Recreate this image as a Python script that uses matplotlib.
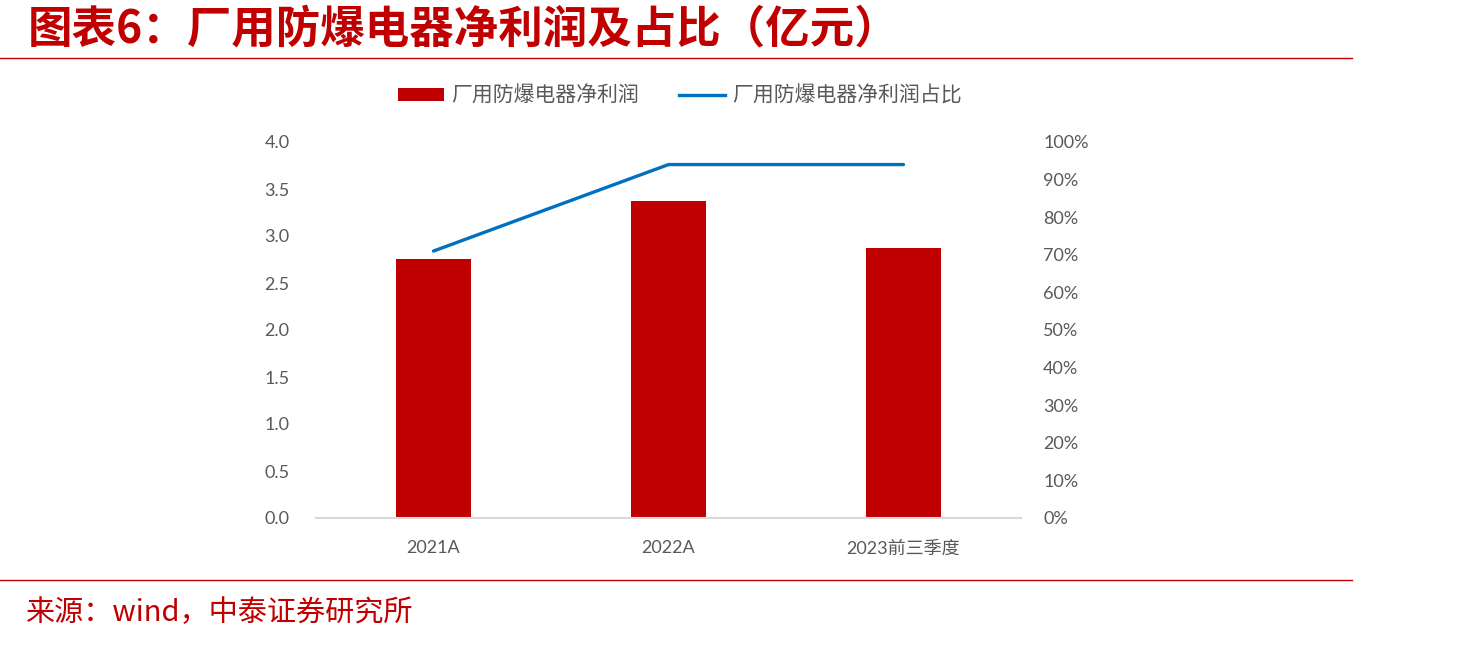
import matplotlib
matplotlib.use("Agg")
import matplotlib.pyplot as plt
from matplotlib.patches import Patch
from matplotlib.lines import Line2D
from matplotlib.ticker import FuncFormatter

plt.rcParams['font.family'] = ['Lato', 'Noto Sans CJK SC', 'DejaVu Sans']

categories = ["2021A", "2022A", "2023前三季度"]
net_profit = [2.76, 3.37, 2.87]
share = [0.71, 0.94, 0.94]
left_ticks = [0.0, 0.5, 1.0, 1.5, 2.0, 2.5, 3.0, 3.5, 4.0]
right_ticks = [0.0, 0.1, 0.2, 0.3, 0.4, 0.5, 0.6, 0.7, 0.8, 0.9, 1.0]

title = "图表6：厂用防爆电器净利润及占比（亿元）"
source = "来源：wind，中泰证券研究所"
label_bar = "厂用防爆电器净利润"
label_line = "厂用防爆电器净利润占比"

RED = "#C00000"
BLUE = "#0070C0"
GRAY = "#595959"

W, H = 1463, 645
fig = plt.figure(figsize=(W / 100, H / 100), dpi=100)

def fx(px):
    return px / W

def fy(py):
    return 1 - py / H

ax = fig.add_axes([fx(316), fy(518), fx(1021) - fx(316), fy(142) - fy(518)])
x = list(range(len(categories)))
ax.bar(x, net_profit, width=0.315, color=RED, zorder=2)
ax.set_xlim(-0.5, len(categories) - 0.5)
ax.set_ylim(0, 4.0)
ax.set_yticks(left_ticks)
ax.yaxis.set_major_formatter(FuncFormatter(lambda v, p: f"{v:.1f}"))
ax.set_xticks(x)
ax.set_xticklabels(categories)
for s in ["top", "right", "left"]:
    ax.spines[s].set_visible(False)
ax.spines["bottom"].set_color("#D9D9D9")
ax.spines["bottom"].set_linewidth(1.5)
ax.tick_params(axis="y", length=0, pad=19, labelsize=13, labelcolor=GRAY)
ax.tick_params(axis="x", length=0, pad=16, labelsize=13, labelcolor=GRAY)

ax2 = ax.twinx()
ax2.plot(x, share, color=BLUE, linewidth=2.4, solid_capstyle="round", zorder=3)
ax2.set_ylim(0, 1.0)
ax2.set_yticks(right_ticks)
ax2.yaxis.set_major_formatter(FuncFormatter(lambda v, p: f"{v*100:.0f}%"))
for s in ["top", "right", "left", "bottom"]:
    ax2.spines[s].set_visible(False)
ax2.tick_params(axis="y", length=0, pad=16, labelsize=13, labelcolor=GRAY)

handles = [Patch(facecolor=RED, edgecolor="none", label=label_bar),
           Line2D([0], [0], color=BLUE, linewidth=2.4, label=label_line)]
leg = fig.legend(handles=handles, loc="center", bbox_to_anchor=(fx(680), fy(96)),
                 ncol=2, frameon=False, handlelength=2.2, handleheight=0.55,
                 handletextpad=0.35, columnspacing=1.9,
                 prop={'family': ['Noto Sans CJK SC'], 'size': 15})
for t in leg.get_texts():
    t.set_color(GRAY)

fig.text(fx(28), fy(30), title, color=RED, fontsize=32, fontweight="bold",
         family=['Noto Sans CJK SC'], ha="left", va="center")
fig.add_artist(Line2D([0, fx(1352)], [fy(58), fy(58)], color=RED, linewidth=1.0))
fig.add_artist(Line2D([0, fx(1352)], [fy(580), fy(580)], color=RED, linewidth=1.0))
fig.text(fx(25), fy(613), source, color=RED, fontsize=21,
         family=['Noto Sans CJK SC'], ha="left", va="center")

fig.savefig("out.png", dpi=100)
